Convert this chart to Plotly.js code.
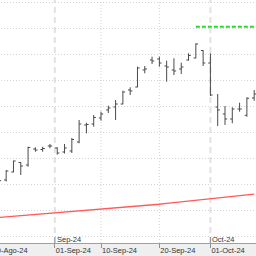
<!DOCTYPE html>
<html>
<head>
<meta charset="utf-8">
<script src="https://cdn.plot.ly/plotly-3.0.1.min.js"></script>
<style>
html,body{margin:0;padding:0;background:#fff;overflow:hidden;}
#wrap{width:256px;height:256px;overflow:hidden;position:relative;}
#chart{width:276px;height:256px;position:absolute;left:-20px;top:0;}
</style>
</head>
<body>
<div id="wrap"><div id="chart"></div></div>
<script>
// Trading days shown
const dates = [
  '2024-08-21','2024-08-22','2024-08-23','2024-08-26','2024-08-27','2024-08-28','2024-08-29','2024-08-30',
  '2024-09-02','2024-09-03','2024-09-04','2024-09-05','2024-09-06','2024-09-09','2024-09-10','2024-09-11',
  '2024-09-12','2024-09-13','2024-09-16','2024-09-17','2024-09-18','2024-09-19','2024-09-20','2024-09-23',
  '2024-09-24','2024-09-25','2024-09-26','2024-09-27','2024-09-30','2024-10-01','2024-10-02','2024-10-03',
  '2024-10-04','2024-10-07','2024-10-08','2024-10-09'
];
const open  = [12.135,12.192,12.500,12.865,12.769,13.385,13.365,13.500,13.423,13.269,13.308,13.654,14.308,14.346,14.577,14.885,
               15.000,15.115,15.654,15.769,16.423,16.808,16.846,16.577,16.423,16.462,16.808,16.885,17.173,16.692,15.000,14.731,
               14.538,14.923,14.681,15.346];
const high  = [12.346,12.577,12.935,12.885,13.473,13.450,13.473,13.577,13.450,13.577,13.808,14.500,14.396,14.692,14.819,15.050,
               15.269,15.627,15.758,16.550,16.577,16.935,16.935,16.781,16.873,16.704,17.065,17.450,17.192,17.065,15.500,15.038,
               14.988,15.165,15.373,15.654];
const low   = [12.038,12.135,12.488,12.385,12.704,13.281,13.281,13.412,13.165,13.212,13.231,13.604,13.988,14.242,14.473,14.769,
               14.500,15.104,15.462,15.758,16.296,16.654,16.550,15.973,16.231,16.269,16.781,16.873,16.577,15.423,14.269,14.308,
               14.373,14.819,14.627,15.242];
const close = [12.165,12.538,12.923,12.731,13.442,13.346,13.404,13.500,13.231,13.423,13.750,14.346,14.327,14.596,14.731,14.962,
               15.115,15.577,15.615,16.500,16.462,16.769,16.692,16.538,16.385,16.538,16.981,17.423,16.692,15.462,14.885,14.538,
               14.923,14.923,15.335,15.500];
// Long moving average (red)
const movingAvg = [10.754,10.776,10.798,10.820,10.842,10.864,10.886,10.908,10.930,10.952,10.974,10.996,11.018,11.040,11.062,11.084,
                   11.106,11.128,11.150,11.173,11.200,11.230,11.260,11.290,11.320,11.350,11.380,11.410,11.440,11.470,11.500,11.530,
                   11.560,11.590,11.620,11.650];
// Green target level
const targetLevel = 18.09;
const targetStart = '2024-09-27';

// Axis labels
const tickDates = ['2024-08-20','2024-09-01','2024-09-10','2024-09-20','2024-10-01'];
const tickText  = ['20-Ago-24','01-Sep-24','10-Sep-24','20-Sep-24','01-Oct-24'];
const monthDates  = ['2024-09-01','2024-10-01'];
const monthLabels = ['Sep-24','Oct-24'];
const priceGrid = [10,11,12,13,14,15,16,17,18,19];

// map a calendar date to a trading-day position
function pos(d){
  const t = Date.parse(d);
  const t0 = Date.parse(dates[0]);
  if (t < t0){
    let n = 0; let c = new Date(t);
    while (c.getTime() < t0){ const w = c.getUTCDay(); if (w !== 0 && w !== 6) n++; c = new Date(c.getTime()+86400000); }
    return -n;
  }
  for (let i=0;i<dates.length-1;i++){
    const a = Date.parse(dates[i]), b = Date.parse(dates[i+1]);
    if (t>=a && t<=b) return i + (t-a)/(b-a);
  }
  return dates.length-1;
}
const xs = dates.map((d,i)=>i);
const tickPos = tickDates.map(pos);
const monthPos = monthDates.map(pos);
const xEnd = 40;

const FONT = 'Liberation Sans Narrow, Arial Narrow, Liberation Sans, sans-serif';

const traces = [
  {
    type:'scatter', mode:'lines', x: xs, y: movingAvg,
    line:{color:'#ff5a5a', width:1.3}, hoverinfo:'skip'
  },
  {
    type:'scatter', mode:'lines', x:[pos(targetStart), xEnd], y:[targetLevel, targetLevel],
    line:{color:'#22dd22', width:2, dash:'4px,2px'}, hoverinfo:'skip'
  },
  {
    type:'ohlc', x: xs, open, high, low, close,
    increasing:{line:{color:'#4a4a4a', width:1}},
    decreasing:{line:{color:'#4a4a4a', width:1}},
    tickwidth:0.3, hoverinfo:'skip'
  }
];

const shapes = [];
// dotted vertical grid at non-month ticks
tickPos.forEach(p=>{
  if (!monthPos.some(m=>Math.abs(m-p)<1e-6)){
    shapes.push({type:'line', xref:'x', yref:'paper', x0:p, x1:p, y0:0, y1:1, layer:'below',
                 line:{color:'#d4d4d4', width:1, dash:'1px,2px'}});
  }
});
// dashed month separators
monthPos.forEach(p=>{
  shapes.push({type:'line', xref:'x', yref:'paper', x0:p, x1:p, y0:0, y1:1, layer:'below',
               line:{color:'#e2e2e2', width:2, dash:'6px,4px'}});
  shapes.push({type:'line', xref:'x', yref:'paper', x0:p, x1:p, y0:0, y1:0.025, layer:'above',
               line:{color:'#909090', width:1}});
});

const annotations = monthLabels.map((t,i)=>({
  text:t, x:monthPos[i], xref:'x', y:0, yref:'paper', xanchor:'left', yanchor:'bottom',
  showarrow:false, xshift:0, yshift:-2.5, font:{family:FONT, size:7.5, color:'#333'}
}));

const layout = {
  width:276, height:256,
  margin:{l:0, r:0, t:0, b:13, pad:0},
  paper_bgcolor:'#efefef', plot_bgcolor:'#ffffff',
  showlegend:false,
  xaxis:{
    type:'linear', range:[-2.59, 35.25], rangeslider:{visible:false},
    tickmode:'array', tickvals:tickPos, ticktext:tickText,
    ticks:'outside', ticklen:4, tickcolor:'#909090', tickwidth:1,
    ticklabelposition:'outside right',
    tickfont:{family:FONT, size:7.5, color:'#333'},
    showgrid:false, zeroline:false,
    showline:true, linecolor:'#a0a0a0', linewidth:1
  },
  yaxis:{
    range:[9.769, 19.115], tickmode:'array', tickvals:priceGrid,
    showticklabels:false, ticks:'',
    showgrid:true, gridcolor:'#d4d4d4', gridwidth:1, griddash:'1px,2px',
    zeroline:false, showline:false
  },
  shapes, annotations
};

Plotly.newPlot('chart', traces, layout, {staticPlot:true, displayModeBar:false});
</script>
</body>
</html>
